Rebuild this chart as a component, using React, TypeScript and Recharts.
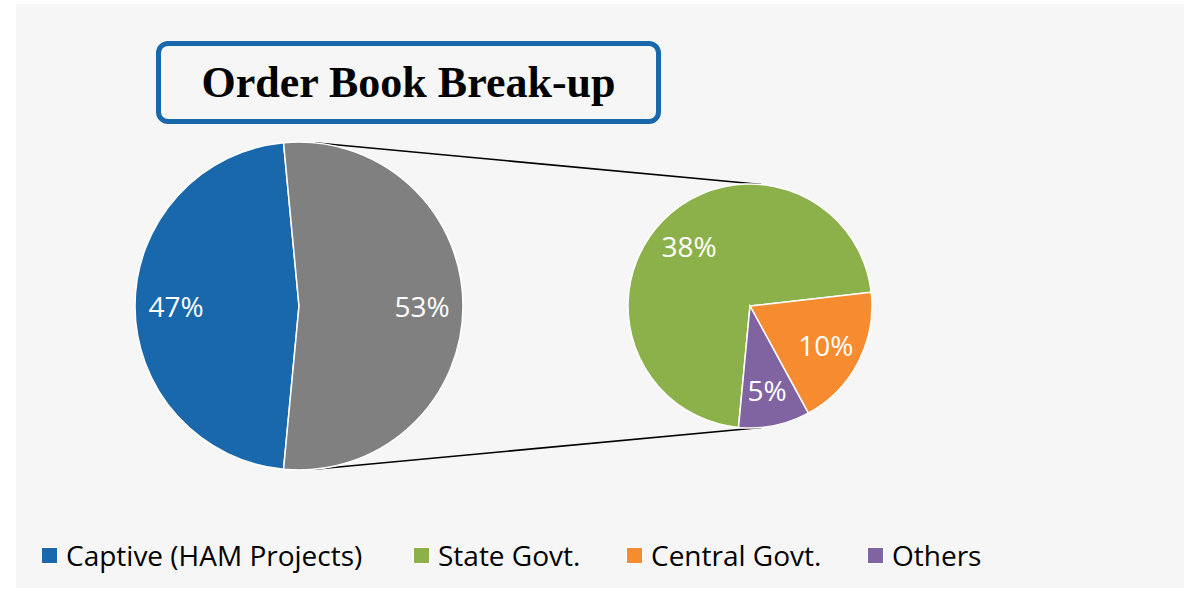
import React from 'react';
import { PieChart, Pie, Cell } from 'recharts';

// ---------------------------------------------------------------------------
// Data
// ---------------------------------------------------------------------------

const primaryNames = ['Captive (HAM Projects)', 'Govt. & Others'];
const primaryValues = [47, 53];
const primaryColors = ['#1a68ac', '#808080'];

const secondaryNames = ['State Govt.', 'Central Govt.', 'Others'];
const secondaryValues = [38, 10, 5];
const secondaryColors = ['#8db14a', '#f68b2f', '#8064a2'];

const legendNames = ['Captive (HAM Projects)', 'State Govt.', 'Central Govt.', 'Others'];
const legendColors = ['#1a68ac', '#8db14a', '#f68b2f', '#8064a2'];

const TITLE = 'Order Book Break-up';

// ---------------------------------------------------------------------------
// Layout
// ---------------------------------------------------------------------------

const W = 1184;
const H = 590;
const BG = '#f6f6f6';
const FONT = '"Open Sans", sans-serif';

const CX1 = 299;
const CX2 = 750;
const CY = 306;
const R1 = 164;
const R2 = 122;

// blue slice centred on the left, the split slice centred on the right
const primaryTotal = primaryValues.reduce((a, b) => a + b, 0);
const START = 180 + (primaryValues[0] / primaryTotal) * 180;

const legendX = [41, 413, 626, 867];

const RAD = Math.PI / 180;

const primaryData = primaryNames.map((name, i) => ({ name, value: primaryValues[i] }));
const secondaryData = secondaryNames.map((name, i) => ({ name, value: secondaryValues[i] }));

function makeLabel(factor: number) {
  return (props: any) => {
    const { cx, cy, midAngle, outerRadius, value } = props;
    const r = outerRadius * factor;
    const x = cx + r * Math.cos(-midAngle * RAD);
    const y = cy + r * Math.sin(-midAngle * RAD);
    return (
      <text
        x={x}
        y={y}
        fill="#ffffff"
        textAnchor="middle"
        dominantBaseline="central"
        style={{ fontFamily: FONT, fontSize: 28 }}
      >
        {value}%
      </text>
    );
  };
}

// outer tangent lines between the two pies
const theta = Math.asin((R1 - R2) / (CX2 - CX1));
const topLine = {
  x1: CX1 + R1 * Math.sin(theta),
  y1: CY - R1 * Math.cos(theta),
  x2: CX2 + R2 * Math.sin(theta),
  y2: CY - R2 * Math.cos(theta),
};
const bottomLine = {
  x1: topLine.x1,
  y1: CY + R1 * Math.cos(theta),
  x2: topLine.x2,
  y2: CY + R2 * Math.cos(theta),
};

export default function App() {
  return (
    <div style={{ position: 'absolute', left: 0, top: 0, width: W, height: H, background: '#ffffff' }}>
      <div style={{ position: 'absolute', left: 16, top: 4, width: W - 16, height: 584, background: BG }} />

      <svg width={W} height={H} style={{ position: 'absolute', left: 0, top: 0 }}>
        <line {...topLine} stroke="#000000" strokeWidth={1.6} />
        <line {...bottomLine} stroke="#000000" strokeWidth={1.6} />
      </svg>

      <div style={{ position: 'absolute', left: 0, top: 0 }}>
        <PieChart width={W} height={H} margin={{ top: 0, right: 0, bottom: 0, left: 0 }}>
          <Pie
            data={primaryData}
            dataKey="value"
            nameKey="name"
            cx={CX1}
            cy={CY}
            outerRadius={R1}
            startAngle={START}
            endAngle={START - 360}
            stroke="#ffffff"
            strokeWidth={1.5}
            labelLine={false}
            label={makeLabel(0.75)}
            isAnimationActive={false}
          >
            {primaryData.map((d, i) => (
              <Cell key={d.name} fill={primaryColors[i]} />
            ))}
          </Pie>
          <Pie
            data={secondaryData}
            dataKey="value"
            nameKey="name"
            cx={CX2}
            cy={CY}
            outerRadius={R2}
            startAngle={START}
            endAngle={START - 360}
            stroke="#ffffff"
            strokeWidth={1.5}
            labelLine={false}
            label={makeLabel(0.7)}
            isAnimationActive={false}
          >
            {secondaryData.map((d, i) => (
              <Cell key={d.name} fill={secondaryColors[i]} />
            ))}
          </Pie>
        </PieChart>
      </div>

      {/* Title box */}
      <div
        style={{
          position: 'absolute',
          left: 156,
          top: 41,
          width: 505,
          height: 83,
          boxSizing: 'border-box',
          border: '5px solid #1a68ac',
          borderRadius: 12,
          background: BG,
          display: 'flex',
          alignItems: 'center',
          justifyContent: 'center',
          fontFamily: '"Liberation Serif", serif',
          fontWeight: 'bold',
          fontSize: 44,
          color: '#000000',
        }}
      >
        {TITLE}
      </div>

      {/* Legend */}
      {legendNames.map((name, i) => (
        <div
          key={name}
          style={{
            position: 'absolute',
            left: legendX[i],
            top: 535,
            height: 40,
            display: 'flex',
            alignItems: 'center',
            whiteSpace: 'nowrap',
            fontFamily: FONT,
            fontSize: 28,
            color: '#000000',
          }}
        >
          <span
            style={{
              display: 'inline-block',
              width: 15,
              height: 15,
              background: legendColors[i],
              border: '1px solid #ffffff',
              marginRight: 8,
            }}
          />
          <span>{name}</span>
        </div>
      ))}
    </div>
  );
}
